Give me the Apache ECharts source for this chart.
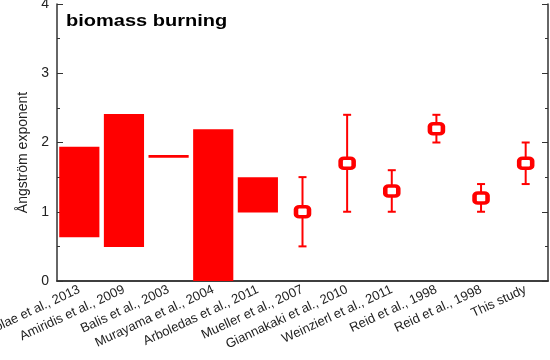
<!DOCTYPE html>
<html>
<head>
<meta charset="utf-8">
<script src="https://cdn.jsdelivr.net/npm/echarts@6/dist/echarts.min.js"></script>
<style>html,body{margin:0;padding:0;background:#fff;}#c{width:550px;height:360px;}</style>
</head>
<body>
<div id="c"></div>
<script>
const categories = ["Nicolae et al., 2013", "Amiridis et al., 2009", "Balis et al., 2003", "Murayama et al., 2004", "Arboledas et al., 2011", "Mueller et al., 2007", "Giannakaki et al., 2010", "Weinzierl et al., 2011", "Reid et al., 1998", "Reid et al., 1998", "This study"];
// range bars (low/high), null where not a range
const rangeLow  = [0.63, 0.49, 1.78, 0.0, 0.99, null, null, null, null, null, null];
const rangeHigh = [1.94, 2.41, 1.82, 2.19, 1.50, null, null, null, null, null, null];
// point estimates with error bars
const pointVal  = [null, null, null, null, null, 1.0, 1.7, 1.3, 2.2, 1.2, 1.7];
const pointLow  = [null, null, null, null, null, 0.5, 1.0, 1.0, 2.0, 1.0, 1.4];
const pointHigh = [null, null, null, null, null, 1.5, 2.4, 1.6, 2.4, 1.4, 2.0];
const yTicks = [0, 1, 2, 3, 4];

const RED = '#ff0000';
const AX = '#333';
const baseData = rangeLow.map(v => v === null ? '-' : v);
const spanData = rangeLow.map((v, i) => v === null ? '-' : +(rangeHigh[i] - v).toFixed(3));
const scatterData = pointVal.map((v, i) => v === null ? null : [i, v]).filter(d => d);
const errData = pointVal.map((v, i) => v === null ? null : [i, pointLow[i], pointHigh[i]]).filter(d => d);

const chart = echarts.init(document.getElementById('c'), null, {renderer: 'canvas'});
chart.setOption({
  animation: false,
  backgroundColor: '#fff',
  grid: {left: 57, right: 2, top: 4, bottom: 79, containLabel: false, outerBoundsMode: 'none'},
  graphic: [{
    type: 'text', left: 66, top: 14, scaleX: 1.25,
    style: {text: 'biomass burning', font: 'bold 16px "Liberation Sans", Arial, sans-serif', fill: '#000'}
  }],
  xAxis: [{
    type: 'category', data: categories, position: 'bottom',
    axisLine: {lineStyle: {color: AX, width: 1.5}},
    axisTick: {inside: true, alignWithLabel: true, length: 5, lineStyle: {color: AX, width: 1}},
    axisLabel: {rotate: 25, margin: 8, fontSize: 13, color: '#222', fontFamily: '"Liberation Sans", Arial, sans-serif', interval: 0, hideOverlap: false},
    splitLine: {show: false}
  }, {
    type: 'category', data: categories, position: 'top',
    axisLine: {lineStyle: {color: AX, width: 1.5}},
    axisTick: {inside: true, alignWithLabel: true, length: 4, lineStyle: {color: AX, width: 1}},
    axisLabel: {show: false}, splitLine: {show: false}
  }],
  yAxis: [{
    type: 'value', min: 0, max: 4, interval: 1, position: 'left',
    name: 'Ångström exponent', nameLocation: 'middle', nameGap: 24,
    nameTextStyle: {fontSize: 14, color: '#222', fontFamily: '"Liberation Sans", Arial, sans-serif', padding: [0, 20, 0, 0]},
    axisLine: {show: true, lineStyle: {color: AX, width: 1.5}},
    axisTick: {show: true, inside: true, length: 6, lineStyle: {color: AX}},
    minorTick: {show: true, splitNumber: 2, length: 3, lineStyle: {color: AX}},
    axisLabel: {margin: 8, fontSize: 14, color: '#222', fontFamily: '"Liberation Sans", Arial, sans-serif',
      formatter: v => yTicks.includes(v) ? String(v) : ''},
    splitLine: {show: false}
  }, {
    type: 'value', min: 0, max: 4, interval: 1, position: 'right',
    axisLine: {show: true, lineStyle: {color: AX, width: 1.5}},
    axisTick: {show: true, inside: true, length: 6, lineStyle: {color: AX}},
    minorTick: {show: true, splitNumber: 2, length: 3, lineStyle: {color: AX}},
    axisLabel: {show: false}, splitLine: {show: false}
  }],
  series: [{
    type: 'bar', stack: 'r', data: baseData, barWidth: '90%',
    itemStyle: {color: 'rgba(0,0,0,0)'}, silent: true
  }, {
    type: 'bar', stack: 'r', data: spanData, barWidth: '90%',
    itemStyle: {color: RED}
  }, {
    type: 'custom', data: errData, z: 3,
    renderItem: function (params, api) {
      const lo = api.coord([api.value(0), api.value(1)]);
      const hi = api.coord([api.value(0), api.value(2)]);
      const c = 4;
      const st = {stroke: RED, lineWidth: 2};
      return {type: 'group', children: [
        {type: 'line', shape: {x1: lo[0], y1: lo[1], x2: hi[0], y2: hi[1]}, style: st},
        {type: 'line', shape: {x1: lo[0] - c, y1: lo[1], x2: lo[0] + c, y2: lo[1]}, style: st},
        {type: 'line', shape: {x1: hi[0] - c, y1: hi[1], x2: hi[0] + c, y2: hi[1]}, style: st}
      ]};
    }
  }, {
    type: 'scatter', data: scatterData, z: 5,
    symbol: 'roundRect', symbolSize: [13, 10],
    itemStyle: {color: '#fff', borderColor: RED, borderWidth: 4, opacity: 1}
  }]
});
</script>
</body>
</html>
